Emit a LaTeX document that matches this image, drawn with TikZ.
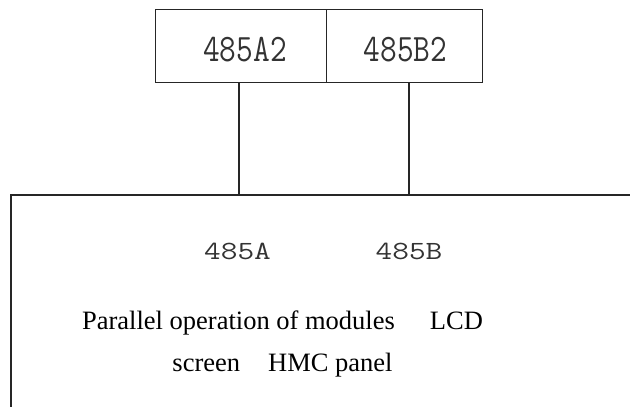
\documentclass[tikz,border=0pt]{standalone}
\usepackage{fontspec}
\setmainfont{Liberation Serif}
\begin{document}
\begin{tikzpicture}[x=1pt,y=-1pt,
  line/.style={line width=1.3pt, draw=black!85},
  cell/.style={line, minimum height=73pt, inner sep=0pt, anchor=north west},
  monolabel/.style={font=\ttfamily\fontsize{32.4}{32.4}\selectfont, text=black!80, anchor=base, inner sep=0pt},
  maintext/.style={font=\fontsize{26.5}{42}\selectfont, anchor=base, inner sep=0pt}]
\useasboundingbox (0,0) rectangle (630,407);
% top cells
\node[cell, minimum width=171pt] (a2) at (155,9) {};
\node[cell, minimum width=156pt] (b2) at (326,9) {};
\node[monolabel] (ta) at (245,61) {\scalebox{1}[1.2]{485A2}};
\node[monolabel] (tb) at (405.5,61) {\scalebox{1}[1.2]{485B2}};
% big box (extends past the picture)
\coordinate (pa) at (239,195);
\coordinate (pb) at (409,195);
\coordinate (bl) at (11,195);
\coordinate (br) at (640,195);
\coordinate (bb) at (11,420);
\begin{scope}
\clip (0,0) rectangle (630,407);
\draw[line] (bb) -- (bl) -- (br);
\end{scope}
% connectors
\draw[line] (a2.south -| pa) -- (pa);
\draw[line] (b2.south -| pb) -- (pb);
% labels inside big box
\node[monolabel] (la) at (237.5,259) {\scalebox{1}[0.81]{485A}};
\node[monolabel] (lb) at (409,259) {\scalebox{1}[0.81]{485B}};
\node[maintext] (m1) at (282.5,329) {Parallel operation of modules\hspace{35pt}LCD};
\node[maintext] (m2) at (282.5,371) {screen\hspace{28pt}HMC panel};
\end{tikzpicture}
\end{document}
